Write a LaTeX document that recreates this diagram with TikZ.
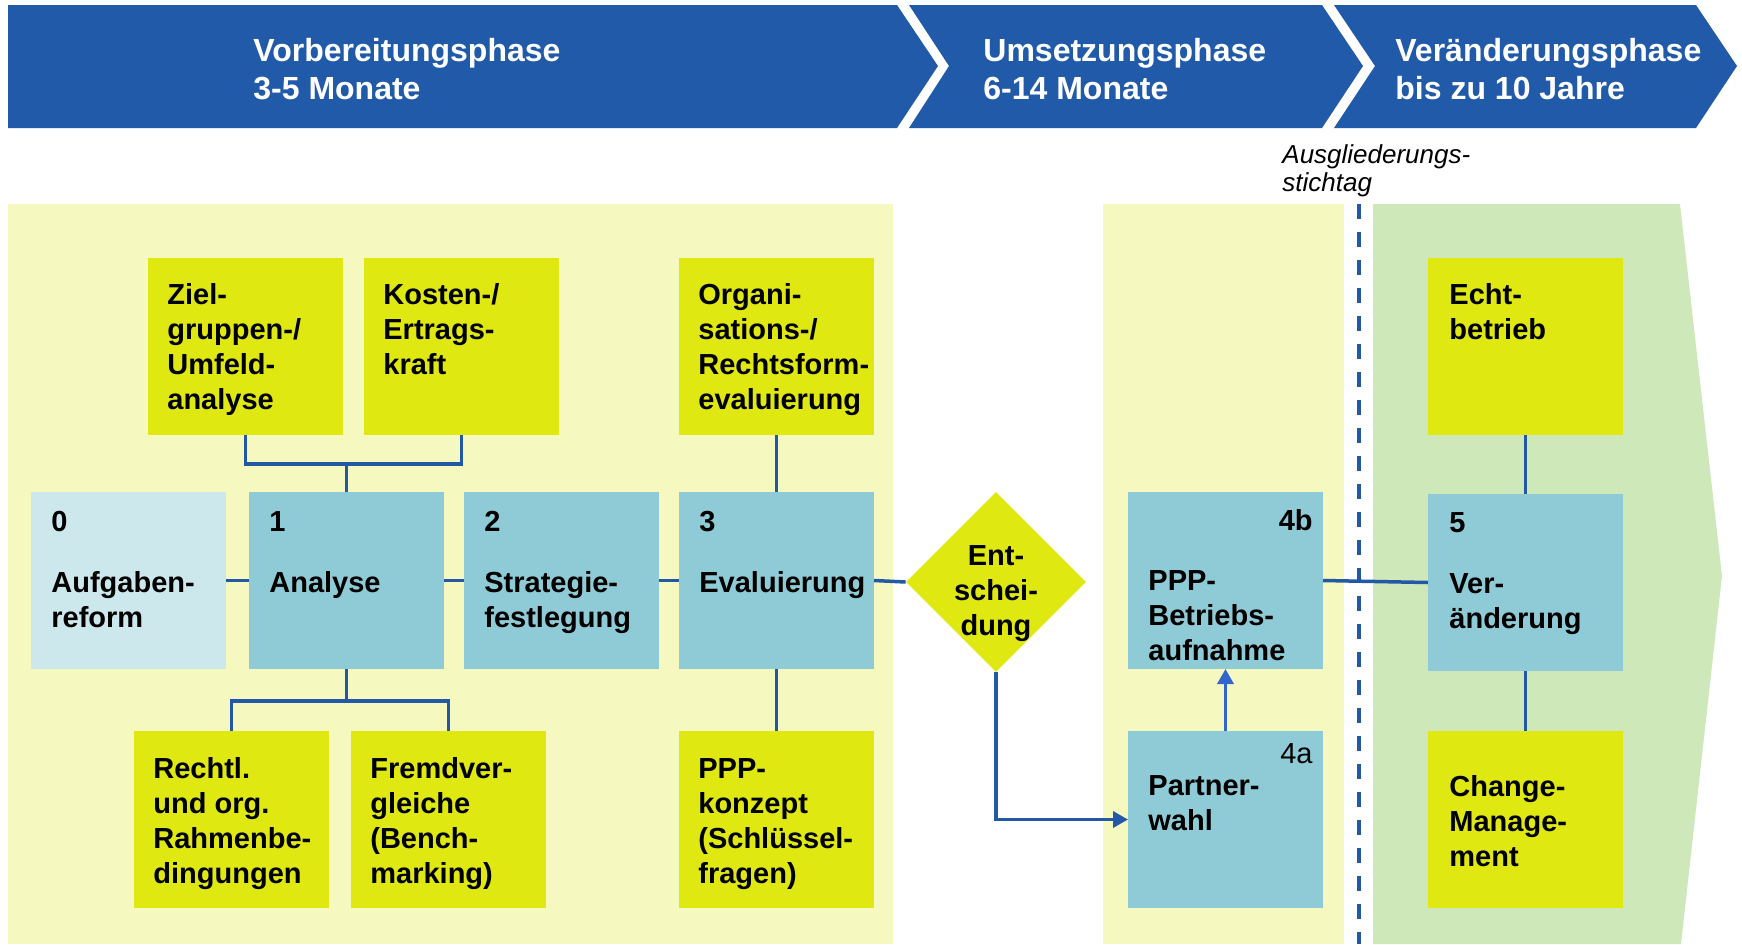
\documentclass[tikz,border=0pt]{standalone}
\usepackage{fontspec}
\setmainfont{Liberation Sans}
\usetikzlibrary{arrows.meta,shapes.geometric}
\definecolor{hdr}{HTML}{215AA8}
\definecolor{pale}{HTML}{F5F9C0}
\definecolor{lime}{HTML}{DFE811}
\definecolor{bluebox}{HTML}{8FCBD6}
\definecolor{lightbox}{HTML}{CDE8EC}
\definecolor{greenbg}{HTML}{CFE8BA}
\definecolor{conn}{HTML}{2358A6}
\definecolor{arrowblue}{HTML}{3366CC}
\newcommand\mlines[1]{\begin{tabular}[t]{@{}l@{}}#1\end{tabular}}
\newcommand\mlinesc[1]{\begin{tabular}[t]{@{}c@{}}#1\end{tabular}}
\begin{document}
\begin{tikzpicture}[x=0.5pt,y=-0.5pt,
  cell/.style={draw=none,inner sep=0,outer sep=0,minimum width=97.5pt,minimum height=88.5pt,anchor=north west},
  limebox/.style={cell,fill=lime},
  bluecell/.style={cell,fill=bluebox},
  lbl/.style={anchor=base west,inner sep=0,font=\fontsize{14.5}{17.5}\selectfont\bfseries},
  numr/.style={anchor=base east,inner sep=0,font=\fontsize{14.5}{17.5}\selectfont\bfseries},
  hdrtext/.style={anchor=base west,inner sep=0,text=white,font=\fontsize{16}{19}\selectfont\bfseries},
  link/.style={draw=conn,line width=1.75pt},
  arrowlink/.style={draw=conn,line width=1.75pt,-{Triangle[length=7.5pt,width=8pt]}},
]
\useasboundingbox (0,0) rectangle (1742,944);
% header chevrons
\fill[hdr] (8,5) -- (897,5) -- (938,66) -- (897,128) -- (8,128) -- cycle;
\fill[hdr] (909,5) -- (1322,5) -- (1363,66) -- (1322,128) -- (909,128) -- (949,66) -- cycle;
\fill[hdr] (1334,5) -- (1696,5) -- (1737,66) -- (1696,128) -- (1334,128) -- (1375,66) -- cycle;
\node[hdrtext] (h1) at (253,61) {\mlines{Vorbereitungsphase\\3-5 Monate}};
\node[hdrtext] (h2) at (983,61) {\mlines{Umsetzungsphase\\6-14 Monate}};
\node[hdrtext] (h3) at (1395,61) {\mlines{Veränderungsphase\\bis zu 10 Jahre}};
% background panels
\fill[pale] (8,204) rectangle (893,944);
\fill[pale] (1103,204) rectangle (1344,944);
\fill[greenbg] (1373,204) -- (1680,204) -- (1722,576) -- (1681,944) -- (1373,944) -- cycle;
\draw[conn,line width=1.75pt,dash pattern=on 7.5pt off 6.5pt] (1359,204) -- (1359,944);
\node[anchor=base west,inner sep=0,font=\fontsize{13}{14}\selectfont\itshape] (stich) at (1282,163) {\mlines{Ausgliederungs-\\stichtag}};
% top row
\node[limebox] (ziel) at (148,258) {};
\node[limebox] (kosten) at (364,258) {};
\node[limebox] (org) at (679,258) {};
\node[limebox] (echt) at (1428,258) {};
% middle row
\node[cell,fill=lightbox] (b0) at (31,492) {};
\node[bluecell] (b1) at (249,492) {};
\node[bluecell] (b2) at (464,492) {};
\node[bluecell] (b3) at (679,492) {};
\node[diamond,fill=lime,inner sep=0,minimum width=90pt,minimum height=90pt] (dia) at (996,582) {};
\node[bluecell] (b4b) at (1128,492) {};
\node[bluecell] (b5) at (1428,494) {};
% bottom row
\node[limebox] (rechtl) at (134,731) {};
\node[limebox] (fremd) at (351,731) {};
\node[limebox] (konzept) at (679,731) {};
\node[bluecell] (b4a) at (1128,731) {};
\node[limebox] (change) at (1428,731) {};
% texts
\node[lbl] (tziel) at (167,304) {\mlines{Ziel-\\gruppen-/\\Umfeld-\\analyse}};
\node[lbl] (tkosten) at (383,304) {\mlines{Kosten-/\\Ertrags-\\kraft}};
\node[lbl] (torg) at (698,304) {\mlines{Organi-\\sations-/\\Rechtsform-\\evaluierung}};
\node[lbl] (techt) at (1449,304) {\mlines{Echt-\\betrieb}};
\node[lbl] (n0) at (51,531) {0};
\node[lbl] (t0) at (51,592) {\mlines{Aufgaben-\\reform}};
\node[lbl] (n1) at (269,531) {1};
\node[lbl] (t1) at (269,592) {Analyse};
\node[lbl] (n2) at (484,531) {2};
\node[lbl] (t2) at (484,592) {\mlines{Strategie-\\festlegung}};
\node[lbl] (n3) at (699,531) {3};
\node[lbl] (t3) at (699,592) {Evaluierung};
\node[lbl,anchor=base] (tdia) at (996,565) {\mlinesc{Ent-\\schei-\\dung}};
\node[numr] (n4b) at (1313,530) {4b};
\node[lbl] (t4b) at (1148,590) {\mlines{PPP-\\Betriebs-\\aufnahme}};
\node[lbl] (n5) at (1449,532) {5};
\node[lbl] (t5) at (1449,593) {\mlines{Ver-\\änderung}};
\node[lbl] (trechtl) at (153,778) {\mlines{Rechtl.\\und org.\\Rahmenbe-\\dingungen}};
\node[lbl] (tfremd) at (370,778) {\mlines{Fremdver-\\gleiche\\(Bench-\\marking)}};
\node[lbl] (tkonzept) at (698,778) {\mlines{PPP-\\konzept\\(Schlüssel-\\fragen)}};
\node[numr,font=\fontsize{14.5}{17.5}\selectfont] (n4a) at (1313,763) {4a};
\node[lbl] (t4a) at (1148,795) {\mlines{Partner-\\wahl}};
\node[lbl] (tchange) at (1449,796) {\mlines{Change-\\Manage-\\ment}};
% connectors
\coordinate (jt) at (346.5,464);
\coordinate (jb) at (346.5,701);
\draw[link] (ziel.south) |- (jt) -| (kosten.south);
\draw[link] (jt) -- (b1.north);
\draw[link] (b1.south) -- (jb);
\draw[link] (rechtl.north) |- (jb) -| (fremd.north);
\draw[link] (b0.east) -- (b1.west);
\draw[link] (b1.east) -- (b2.west);
\draw[link] (b2.east) -- (b3.west);
\draw[link] (b3.east) -- (dia.west);
\draw[link] (org.south) -- (b3.north);
\draw[link] (b3.south) -- (konzept.north);
\draw[arrowlink] (dia.south) |- (b4a.west);
\draw[arrowlink,draw=arrowblue,fill=arrowblue] (b4a.north) -- (b4b.south);
\draw[link] (b4b.east) -- (b5.west);
\draw[link] (echt.south) -- (b5.north);
\draw[link] (b5.south) -- (change.north);
\end{tikzpicture}
\end{document}
